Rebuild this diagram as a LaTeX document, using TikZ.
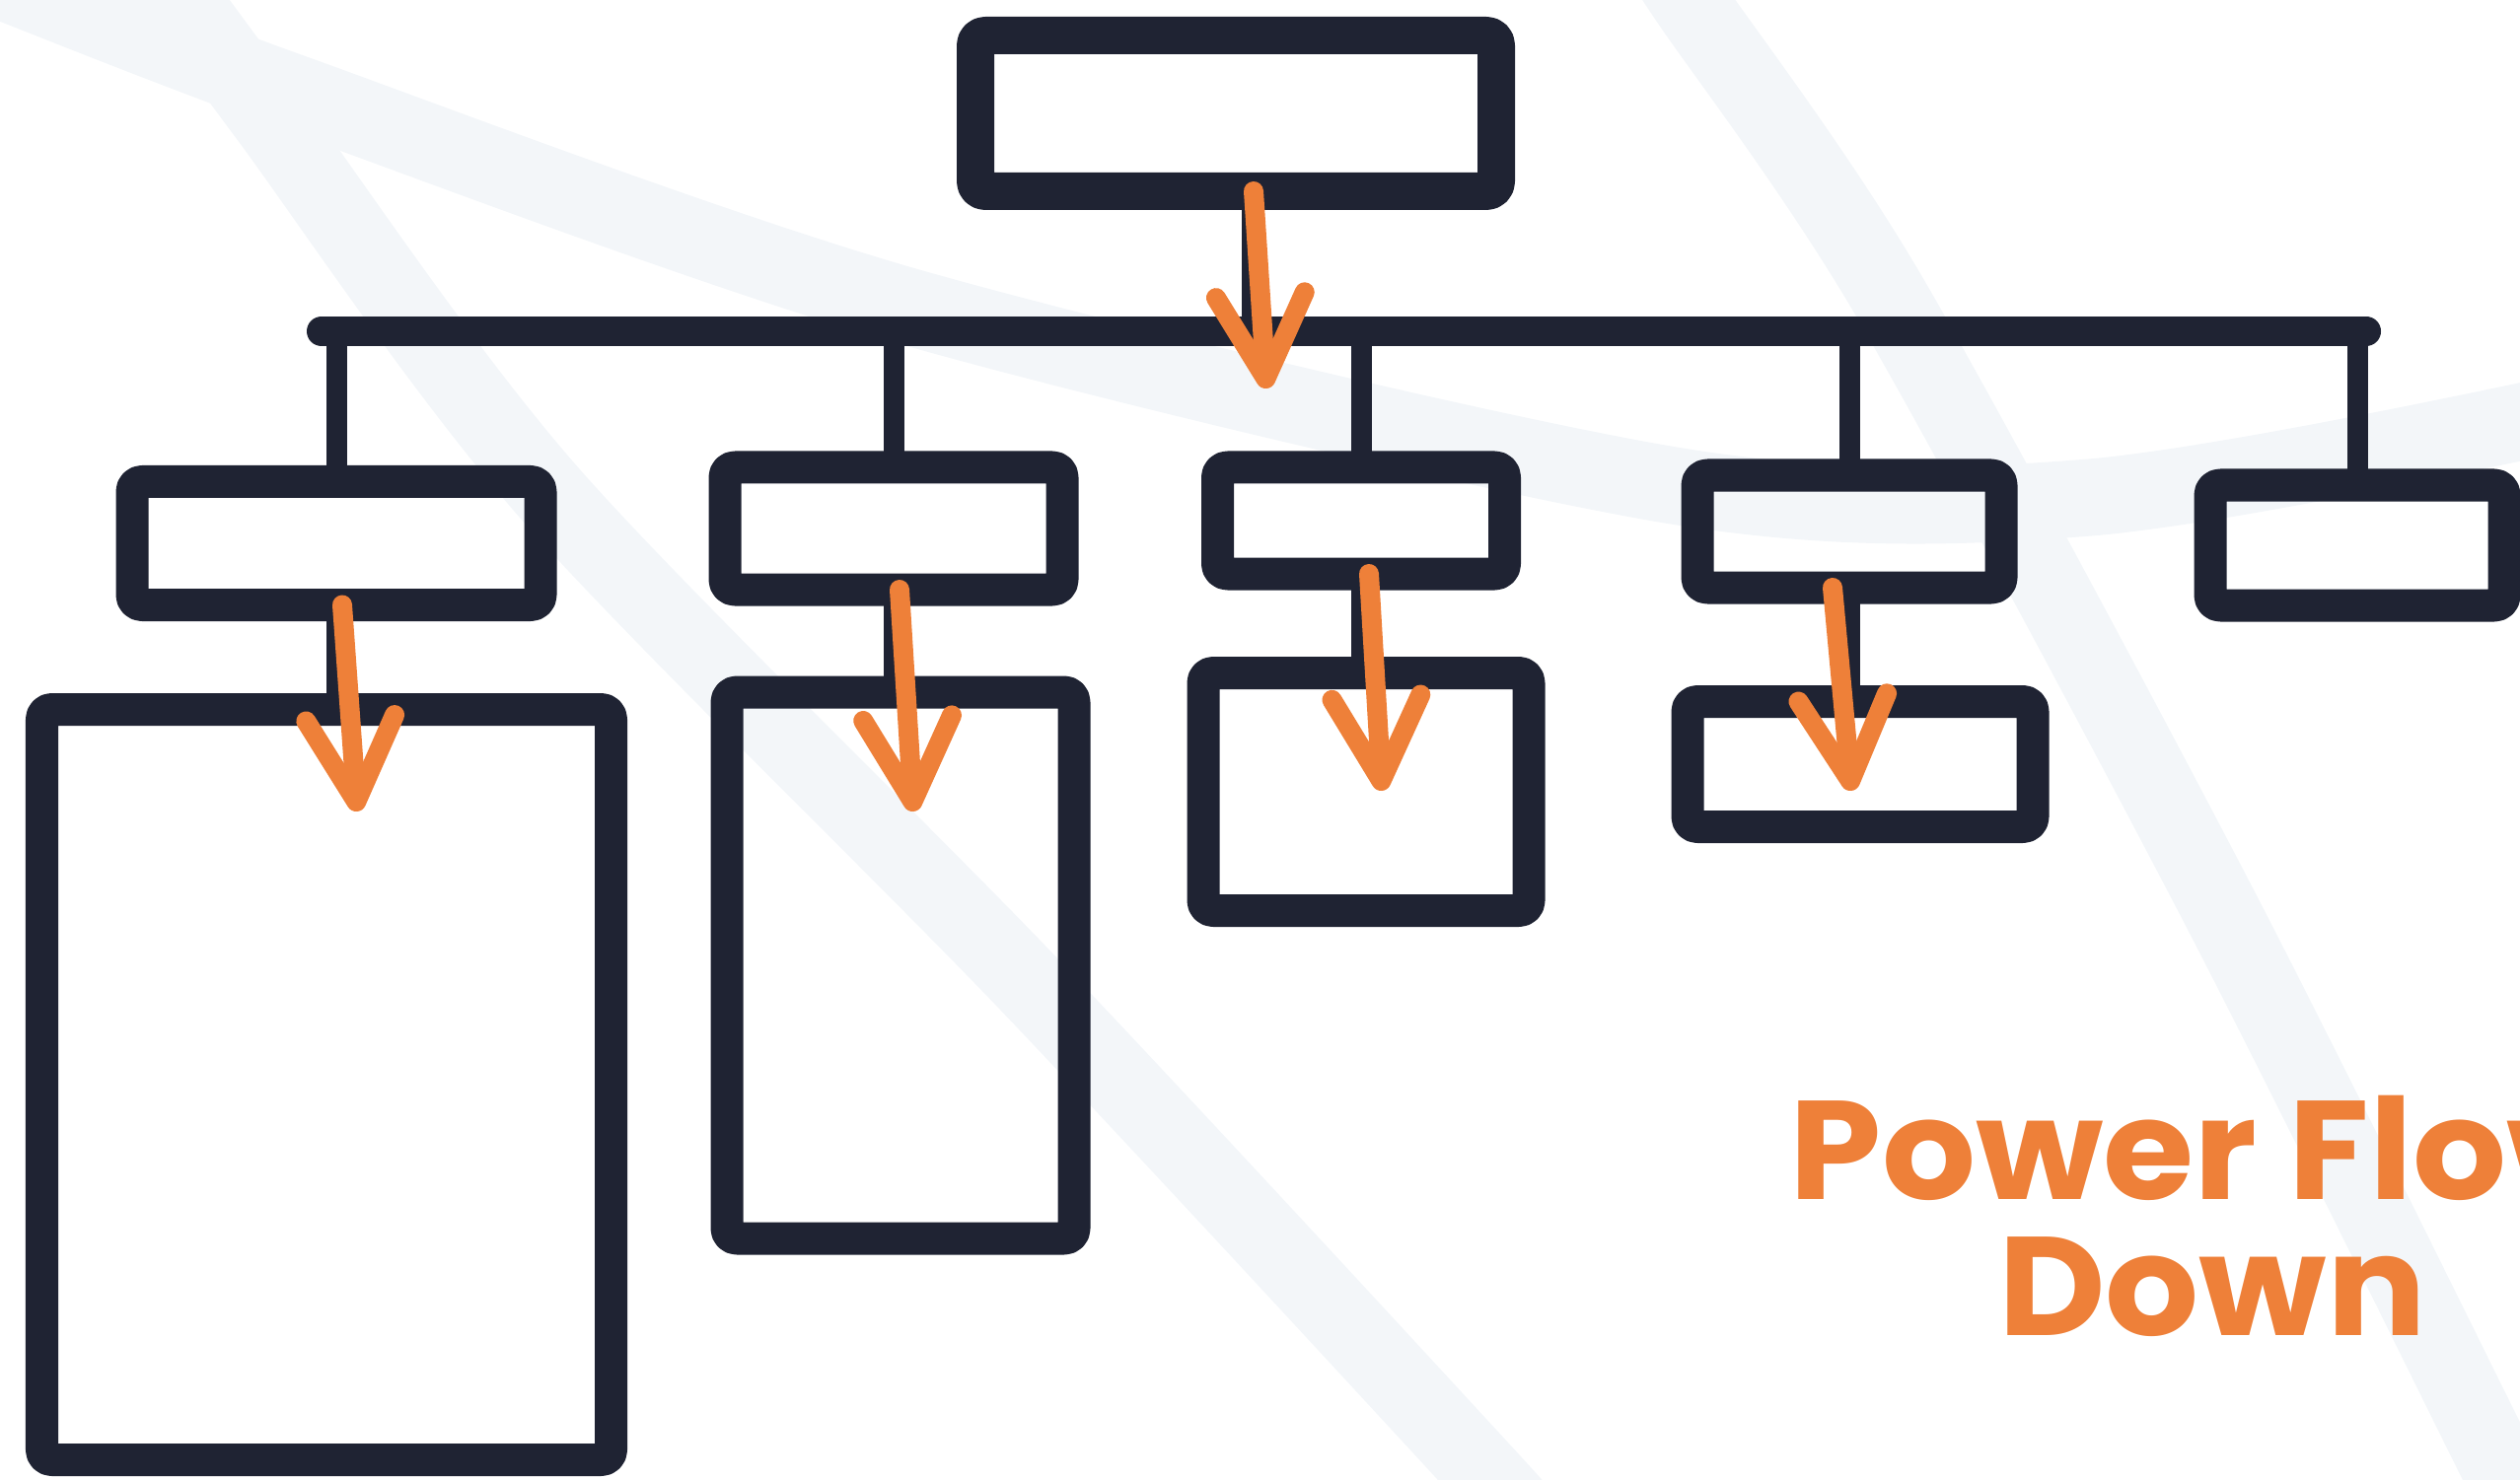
\documentclass[tikz,border=0pt]{standalone}
\usepackage{fontspec}
\newfontfamily\headfont{Poppins}[FakeStretch=1.05]
\usetikzlibrary{arrows.meta}
\definecolor{ink}{RGB}{31,35,51}
\definecolor{flame}{RGB}{238,128,57}
\definecolor{haze}{RGB}{243,246,249}

\begin{document}
\begin{tikzpicture}[
	box/.style={draw=ink,line width=3.3mm,line join=round,rounded corners=1mm,inner sep=0,outer sep=0},
	link/.style={draw=ink,line width=2.1mm,line cap=round},
	flow/.style={draw=flame,line width=2mm,line cap=round,-{Straight Barb[length=8.5mm,width=9mm,round]}},
	band/.style={draw=haze,line width=7.8mm}]
	\useasboundingbox (0,0) rectangle (25.55,15);
	\clip (0,0) rectangle (25.55,15);
	% pale bands behind
	\draw[band] plot[smooth] coordinates {(-0.5,15.4) (0,15.2) (3,14.05) (9.25,11.88) (17,10.07) (21.13,9.95) (25.55,10.72) (26.2,11.0)};
	\draw[band] plot[smooth] coordinates {(1.7,15.2) (2.73,13.8) (5.57,10) (10.45,5) (15.1,0) (15.6,-0.6)};
	\draw[band] plot[smooth] coordinates {(16.8,15.5) (17.12,15) (19.15,12) (22.46,5.88) (25.4,0) (25.7,-0.6)};
	% boxes
	\node[box,line width=3.8mm,minimum width=5.28cm,minimum height=1.58cm] (1) at (12.53,13.85) {};
	\node[box,minimum width=4.14cm,minimum height=1.25cm] (2) at (3.41,9.49) {};
	\node[box,minimum width=3.42cm,minimum height=1.24cm] (3) at (9.06,9.64) {};
	\node[box,minimum width=2.91cm,minimum height=1.08cm] (4) at (13.80,9.72) {};
	\node[box,minimum width=3.08cm,minimum height=1.14cm] (5) at (18.75,9.61) {};
	\node[box,minimum width=2.98cm,minimum height=1.22cm] (6) at (23.90,9.47) {};
	\node[box,minimum width=5.77cm,minimum height=7.61cm] (7) at (3.31,4.00) {};
	\node[box,minimum width=3.52cm,minimum height=5.54cm] (8) at (9.13,5.21) {};
	\node[box,minimum width=3.30cm,minimum height=2.41cm] (9) at (13.85,6.97) {};
	\node[box,minimum width=3.50cm,minimum height=1.27cm] (10) at (18.86,7.25) {};
	% the bar and the drops
	\coordinate (barL) at (3.26,11.64);
	\coordinate (barR) at (23.99,11.64);
	\draw[link,line width=3mm] (barL) -- (barR);
	\draw[link] ([xshift=1.6mm]1.south) -- ([xshift=1.6mm]1.south |- barL);
	\draw[link] (2.north |- barL) -- (2.north);
	\draw[link] (3.north |- barL) -- (3.north);
	\draw[link] (4.north |- barL) -- (4.north);
	\draw[link] (5.north |- barL) -- (5.north);
	\draw[link] (6.north |- barL) -- (6.north);
	\draw[link] (2.south) -- (2.south |- 7.north);
	\draw[link] (3.south) -- (3.south |- 8.north);
	\draw[link] (4.south) -- (4.south |- 9.north);
	\draw[link] (5.south) -- (5.south |- 10.north);
	% orange arrows
	\coordinate (t1) at (12.84,11.06);
	\coordinate (t2) at (3.62,6.77);
	\coordinate (t3) at (9.26,6.77);
	\coordinate (t4) at (14.01,6.98);
	\coordinate (t5) at (18.77,6.98);
	\draw[flow] ([xshift=1.8mm]1.south) -- (t1);
	\draw[flow] ([xshift=0.6mm]2.south) -- (t2);
	\draw[flow] ([xshift=0.6mm]3.south) -- (t3);
	\draw[flow] ([xshift=0.8mm]4.south) -- (t4);
	\draw[flow] ([xshift=-1.7mm]5.south) -- (t5);
	\node[text=flame,align=center,anchor=base,font=\headfont\bfseries\fontsize{40.5}{39}\selectfont] (title) at (22.43,1.46) {Power Flow\\Down};
\end{tikzpicture}
\end{document}
